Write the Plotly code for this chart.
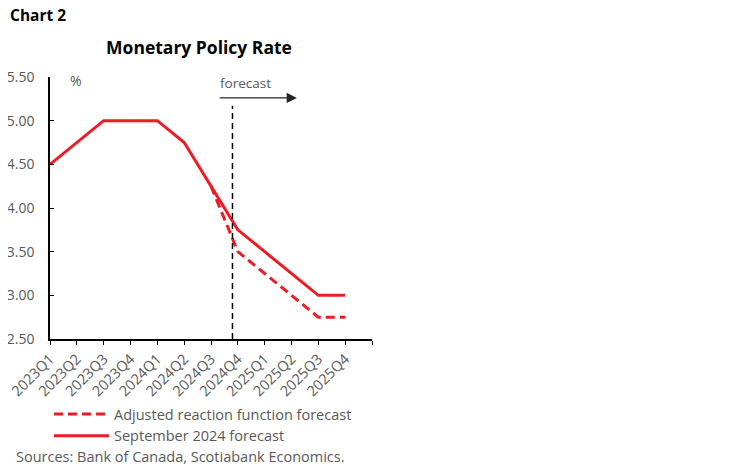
import plotly.graph_objects as go

quarters = [
    "2023Q1", "2023Q2", "2023Q3", "2023Q4",
    "2024Q1", "2024Q2", "2024Q3", "2024Q4",
    "2025Q1", "2025Q2", "2025Q3", "2025Q4",
]
september_forecast = [4.50, 4.75, 5.00, 5.00, 5.00, 4.75, 4.25, 3.75, 3.50, 3.25, 3.00, 3.00]
adjusted_forecast = [None, None, None, None, None, None, 4.25, 3.50, 3.25, 3.00, 2.75, 2.75]
y_ticks = [2.5, 3.0, 3.5, 4.0, 4.5, 5.0, 5.5]

RED = "#ED1C24"
GREY = "#595959"
FONT = "Open Sans"

# the page body adds an 8px offset, so the figure is drawn 8px smaller
# plot area in figure pixels: left 42, right 364, top 69, bottom 331
PW, PH = 322, 262
LEFT, BOTTOM = 42, 331

x_idx = list(range(len(quarters)))

fig = go.Figure()
fig.add_trace(
    go.Scatter(
        x=x_idx,
        y=adjusted_forecast,
        mode="lines",
        name="Adjusted reaction function forecast",
        line=dict(color=RED, width=3, dash="9px,5px"),
    )
)
fig.add_trace(
    go.Scatter(
        x=x_idx,
        y=september_forecast,
        mode="lines",
        name="September 2024 forecast",
        line=dict(color=RED, width=3),
    )
)

# forecast start marker
fig.add_shape(
    type="line", x0=6.8, x1=6.8, y0=2.5, y1=5.17,
    line=dict(color="black", width=1.5, dash="6px,4px"),
)
fig.add_annotation(
    x=9.2, y=5.26, ax=6.27, ay=5.26, xref="x", yref="y", axref="x", ayref="y",
    showarrow=True, arrowhead=2, arrowsize=1.7, arrowwidth=1.2, arrowcolor="#222222",
    text="",
)
fig.add_annotation(
    x=7.28, y=5.43, xref="x", yref="y", text="forecast", showarrow=False,
    font=dict(family=FONT, size=13.5, color=GREY),
)
fig.add_annotation(
    x=0.97, y=5.46, xref="x", yref="y", text="%", showarrow=False,
    xanchor="center", yanchor="middle", font=dict(family=FONT, size=14, color=GREY),
)

fig.add_annotation(
    xref="paper", yref="paper", x=(0 - LEFT) / PW, y=(BOTTOM - (15 - 8)) / PH,
    text="<b>Chart 2</b>", showarrow=False, xanchor="left", yanchor="middle",
    font=dict(family=FONT, size=15.5, color="black"),
)
fig.add_annotation(
    xref="paper", yref="paper", x=(14 - 8 - LEFT) / PW, y=-(456 - 8 - BOTTOM) / PH,
    text="Sources: Bank of Canada, Scotiabank Economics.",
    showarrow=False, xanchor="left", yanchor="middle",
    font=dict(family=FONT, size=14.5, color=GREY),
)

fig.update_layout(
    width=741,
    height=465,
    margin=dict(l=LEFT, r=741 - LEFT - PW, t=BOTTOM - PH, b=465 - BOTTOM),
    paper_bgcolor="white",
    plot_bgcolor="white",
    font=dict(family=FONT, size=13, color=GREY),
    title=dict(
        text="<b>Monetary Policy Rate</b>",
        x=(199 - 8) / 741, xanchor="center", y=1 - (48 - 8) / 465, yanchor="middle",
        font=dict(family=FONT, size=17.5, color="black"),
    ),
    showlegend=True,
    legend=dict(
        x=(49 - 8 - LEFT) / PW, y=-(398 - 8 - BOTTOM) / PH, xanchor="left", yanchor="top",
        font=dict(family=FONT, size=14.5, color=GREY),
        tracegroupgap=0, itemwidth=55,
    ),
    xaxis=dict(
        range=[0, 12],
        tickmode="array",
        tickvals=x_idx + [len(quarters)],
        ticktext=quarters + [""],
        tickangle=-45,
        ticks="outside", ticklen=4, tickcolor="black",
        showline=True, linecolor="black", linewidth=1.5,
        showgrid=False, zeroline=False, automargin=False,
        ticklabeloverflow="allow",
        tickfont=dict(family=FONT, size=14.5, color=GREY),
    ),
    yaxis=dict(
        range=[2.5, 5.5],
        tickmode="array",
        tickvals=y_ticks,
        tickformat=".2f",
        ticks="inside", ticklen=4, tickcolor="black",
        showline=True, linecolor="black", linewidth=1.5,
        showgrid=False, zeroline=False, automargin=False,
        ticklabeloverflow="allow",
        ticklabelstandoff=11,
        tickfont=dict(family=FONT, size=14, color=GREY),
    ),
)

fig.write_html("out.html")
